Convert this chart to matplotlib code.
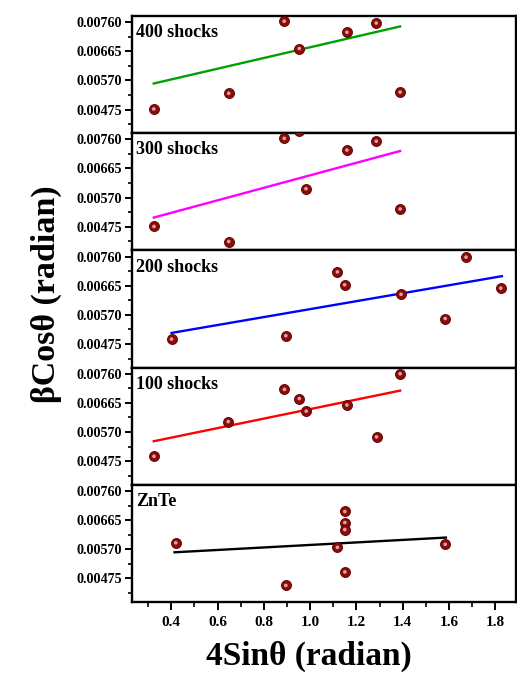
import matplotlib
matplotlib.use("Agg")
import matplotlib.pyplot as plt
from matplotlib.ticker import MultipleLocator, FixedLocator
import numpy as np

plt.rcParams['font.family'] = ['Liberation Serif', 'DejaVu Serif']
plt.rcParams['font.weight'] = 'bold'

# ---- data (top panel to bottom panel) ----
labels = ["400 shocks", "300 shocks", "200 shocks", "100 shocks", "ZnTe"]
line_colors = ["#00a000", "#ff00ff", "#0000ff", "#ff0000", "#000000"]

x_400 = [0.324, 0.648, 0.888, 0.953, 1.159, 1.286, 1.389]
y_400 = [0.00477, 0.00528, 0.00763, 0.00674, 0.00727, 0.00757, 0.00532]
fitx_400 = [0.324, 1.389]
fity_400 = [0.00560, 0.00746]

x_300 = [0.325, 0.648, 0.888, 0.953, 0.982, 1.159, 1.286, 1.389]
y_300 = [0.00476, 0.00427, 0.00763, 0.00787, 0.00599, 0.00725, 0.00754, 0.00533]
fitx_300 = [0.324, 1.389]
fity_300 = [0.00505, 0.00722]

x_200 = [0.401, 0.895, 1.118, 1.149, 1.393, 1.584, 1.674, 1.824]
y_200 = [0.00491, 0.00502, 0.00710, 0.00668, 0.00637, 0.00558, 0.00758, 0.00657]
fitx_200 = [0.401, 1.829]
fity_200 = [0.00511, 0.00696]

x_100 = [0.325, 0.646, 0.889, 0.953, 0.983, 1.159, 1.287, 1.389]
y_100 = [0.00491, 0.00604, 0.00709, 0.00679, 0.00638, 0.00658, 0.00554, 0.00760]
fitx_100 = [0.324, 1.389]
fity_100 = [0.00540, 0.00705]

x_znte = [0.419, 0.895, 1.118, 1.150, 1.150, 1.150, 1.150, 1.584]
y_znte = [0.00591, 0.00452, 0.00576, 0.00693, 0.00657, 0.00634, 0.00496, 0.00586]
fitx_znte = [0.414, 1.587]
fity_znte = [0.00560, 0.00608]

xs = [x_400, x_300, x_200, x_100, x_znte]
ys = [y_400, y_300, y_200, y_100, y_znte]
fitxs = [fitx_400, fitx_300, fitx_200, fitx_100, fitx_znte]
fitys = [fity_400, fity_300, fity_200, fity_100, fity_znte]

y_ticks = [0.00475, 0.00570, 0.00665, 0.00760]
y_tick_labels = ["0.00475", "0.00570", "0.00665", "0.00760"]
x_ticks = [0.4, 0.6, 0.8, 1.0, 1.2, 1.4, 1.6, 1.8]
x_tick_labels = ["0.4", "0.6", "0.8", "1.0", "1.2", "1.4", "1.6", "1.8"]

fig = plt.figure(figsize=(5.17, 6.80), dpi=100)
left, right = 132 / 517, 516 / 517
top, bottom = 1 - 16 / 680, 1 - 602 / 680
n = len(labels)
h = (top - bottom) / n

for i in range(n):
    ax = fig.add_axes([left, top - (i + 1) * h, right - left, h])
    ax.plot(fitxs[i], fitys[i], color=line_colors[i], lw=1.7, zorder=2)
    ax.scatter(xs[i], ys[i], s=52, color="#8b0a0a", edgecolors="#5a0000",
               linewidths=0.6, zorder=3)
    ax.scatter(xs[i], ys[i], s=7, color="#e0a0a0", edgecolors="none", zorder=4)
    ax.set_xlim(0.23, 1.89)
    ax.set_ylim(0.00398, 0.00780)
    ax.yaxis.set_major_locator(FixedLocator(y_ticks))
    ax.set_yticklabels(y_tick_labels)
    ax.yaxis.set_minor_locator(MultipleLocator(0.000475))
    ax.tick_params(axis='y', which='major', direction='out', length=5, width=1.4,
                   labelsize=10.2, pad=2)
    ax.tick_params(axis='y', which='minor', direction='out', length=3, width=1.2)
    for lab in ax.get_yticklabels():
        lab.set_fontweight('bold')
    for sp in ax.spines.values():
        sp.set_linewidth(1.7)
    ax.text(0.01, 0.93, labels[i], transform=ax.transAxes, va='top', ha='left',
            fontsize=13, fontweight='bold')
    if i < n - 1:
        ax.tick_params(axis='x', which='both', bottom=False, labelbottom=False)
    else:
        ax.xaxis.set_major_locator(FixedLocator(x_ticks))
        ax.set_xticklabels(x_tick_labels)
        ax.xaxis.set_minor_locator(MultipleLocator(0.1))
        ax.tick_params(axis='x', which='major', direction='out', length=6, width=1.4,
                       labelsize=11, pad=4)
        ax.tick_params(axis='x', which='minor', direction='out', length=3.5, width=1.2)
        for lab in ax.get_xticklabels():
            lab.set_fontweight('bold')

fig.text(0.597, 1 - 656 / 680, "4Sinθ (radian)", ha='center', va='center',
         fontsize=24, fontweight='bold')
fig.text(46 / 517, 1 - 294 / 680, "βCosθ (radian)", ha='center', va='center',
         rotation=90, fontsize=24.5, fontweight='bold')

fig.savefig("out.png", dpi=100)
